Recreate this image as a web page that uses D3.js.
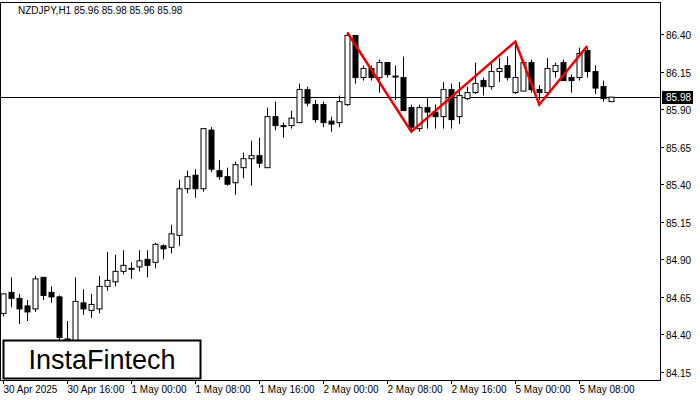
<!DOCTYPE html>
<html><head><meta charset="utf-8">
<script src="https://cdn.jsdelivr.net/npm/d3@7"></script>
<style>body{margin:0;background:#fff}svg{display:block}text{font-family:"Liberation Sans",sans-serif}</style>
</head><body><svg id="c" width="700" height="400"></svg>
<script>
const opens  = [84.54,84.68,84.64,84.59,84.57,84.78,84.68,84.65,84.37,84.36,84.61,84.56,84.57,84.72,84.75,84.82,84.84,84.85,84.90,84.88,84.99,84.98,85.06,85.37,85.46,85.37,85.76,85.49,85.45,85.41,85.51,85.57,85.59,85.51,85.85,85.79,85.79,85.81,86.03,85.93,85.93,85.82,85.81,85.93,86.39,86.11,86.17,86.11,86.21,86.12,86.11,85.91,85.77,85.91,85.88,85.85,86.03,85.85,85.97,86.01,86.09,86.05,86.15,86.19,86.01,86.02,86.21,86.03,86.01,86.15,86.21,86.11,86.11,86.29,86.15,86.05,85.95];
const highs  = [84.67,84.78,84.67,84.63,84.79,84.78,84.72,84.66,84.49,84.78,84.70,84.67,84.79,84.95,84.93,84.96,84.88,84.96,84.96,85.01,85.00,85.13,85.43,85.49,85.50,85.77,85.78,85.56,85.51,85.55,85.61,85.69,85.71,85.91,85.95,85.81,85.89,86.07,86.05,85.96,85.95,85.85,85.99,86.41,86.39,86.19,86.19,86.23,86.21,86.19,86.25,85.93,85.93,85.98,85.93,86.08,86.07,86.08,86.05,86.21,86.11,86.21,86.24,86.25,86.34,86.23,86.23,86.06,86.24,86.21,86.23,86.13,86.31,86.31,86.19,86.09,85.98];
const lows   = [84.52,84.58,84.47,84.49,84.55,84.63,84.61,84.33,84.33,84.33,84.53,84.51,84.54,84.69,84.72,84.80,84.77,84.82,84.78,84.84,84.90,84.94,84.99,85.34,85.31,85.35,85.48,85.43,85.39,85.33,85.44,85.39,85.51,85.51,85.76,85.71,85.77,85.81,85.92,85.81,85.78,85.75,85.78,85.92,86.07,86.09,86.09,86.01,86.11,85.96,85.89,85.75,85.75,85.77,85.77,85.77,85.77,85.80,85.96,86.00,85.99,86.03,86.08,86.09,86.00,86.02,86.01,85.96,85.99,86.11,86.09,86.01,86.09,86.11,86.00,85.95,85.95];
const closes = [84.67,84.64,84.57,84.55,84.77,84.66,84.65,84.38,84.36,84.62,84.57,84.60,84.72,84.76,84.82,84.86,84.84,84.89,84.86,85.00,84.97,85.07,85.37,85.45,85.37,85.77,85.50,85.45,85.40,85.53,85.57,85.59,85.54,85.85,85.79,85.79,85.84,86.03,85.94,85.83,85.81,85.80,85.95,86.39,86.11,86.17,86.11,86.21,86.13,86.12,85.89,85.78,85.91,85.88,85.85,86.03,85.83,85.99,86.01,86.07,86.05,86.15,86.17,86.11,86.11,86.21,86.03,86.01,86.17,86.19,86.09,86.09,86.27,86.15,86.04,85.97,85.98];
const patternIdx = [43,51,64,67,73];
const patternVal = [86.41,85.75,86.35,85.93,86.32];
const yTicks = [84.15,84.40,84.65,84.90,85.15,85.40,85.65,85.90,86.15,86.40];
const xTickIdx = [0,8,16,24,32,40,48,56,64,72];
const xTickLabels = ["30 Apr 2025","30 Apr 16:00","1 May 00:00","1 May 08:00","1 May 16:00","2 May 00:00","2 May 08:00","2 May 16:00","5 May 00:00","5 May 08:00"];
const current = 85.98;

const svg = d3.select("#c");
const W=660, H=380;
const x = d3.scaleLinear().domain([0,1]).range([3.3,11.3]);
const y = d3.scaleLinear().domain([84.15,86.40]).range([372,34]);

svg.append("rect").attr("x",0.5).attr("y",2.5).attr("width",W).attr("height",H-2).attr("fill","none").attr("stroke","#000");

svg.append("line").attr("x1",0).attr("x2",W).attr("y1",Math.round(y(current))+0.5).attr("y2",Math.round(y(current))+0.5).attr("stroke","#000");

const g = svg.append("g");
opens.forEach((o,i)=>{
  const cx = Math.round(x(i))+0.5, c=closes[i];
  g.append("line").attr("x1",cx).attr("x2",cx).attr("y1",y(highs[i])).attr("y2",y(lows[i])).attr("stroke","#000");
  const top=Math.min(y(o),y(c)), h=Math.max(1,Math.abs(y(o)-y(c)));
  g.append("rect").attr("x",cx-2.5).attr("y",top).attr("width",5).attr("height",h)
    .attr("fill", c>=o? "#fff":"#000").attr("stroke","#000");
});

const line = d3.line().x((d,i)=>x(patternIdx[i])).y(d=>y(d));
svg.append("path").attr("d",line(patternVal)).attr("fill","none").attr("stroke","#e00").attr("stroke-width",2.5);

const ya = svg.append("g");
yTicks.forEach(t=>{
  const yy=Math.round(y(t))+0.5;
  ya.append("line").attr("x1",W).attr("x2",W+4).attr("y1",yy).attr("y2",yy).attr("stroke","#000");
  ya.append("text").attr("x",W+6).attr("y",yy+4).attr("font-size",10).text(t.toFixed(2));
});
const cy=Math.round(y(current));
svg.append("rect").attr("x",W+2).attr("y",cy-6).attr("width",31).attr("height",13).attr("fill","#000");
svg.append("text").attr("x",W+6).attr("y",cy+4).attr("font-size",10).attr("fill","#fff").text(current.toFixed(2));

xTickIdx.forEach((k,i)=>{
  const xx=Math.round(x(k))+0.5;
  svg.append("line").attr("x1",xx).attr("x2",xx).attr("y1",H).attr("y2",H+4).attr("stroke","#000");
  svg.append("text").attr("x",xx).attr("y",H+13).attr("font-size",10).text(xTickLabels[i]);
});

svg.append("text").attr("x",18).attr("y",14).attr("font-size",10).text("NZDJPY,H1  85.96 85.98 85.96 85.98");

svg.append("rect").attr("x",3.5).attr("y",340.5).attr("width",197).attr("height",38).attr("fill","#fff").attr("stroke","#000").attr("stroke-width",2);
svg.append("text").attr("x",102).attr("y",369).attr("text-anchor","middle").attr("font-size",27).attr("font-family","Roboto").text("InstaFintech");
</script></body></html>
